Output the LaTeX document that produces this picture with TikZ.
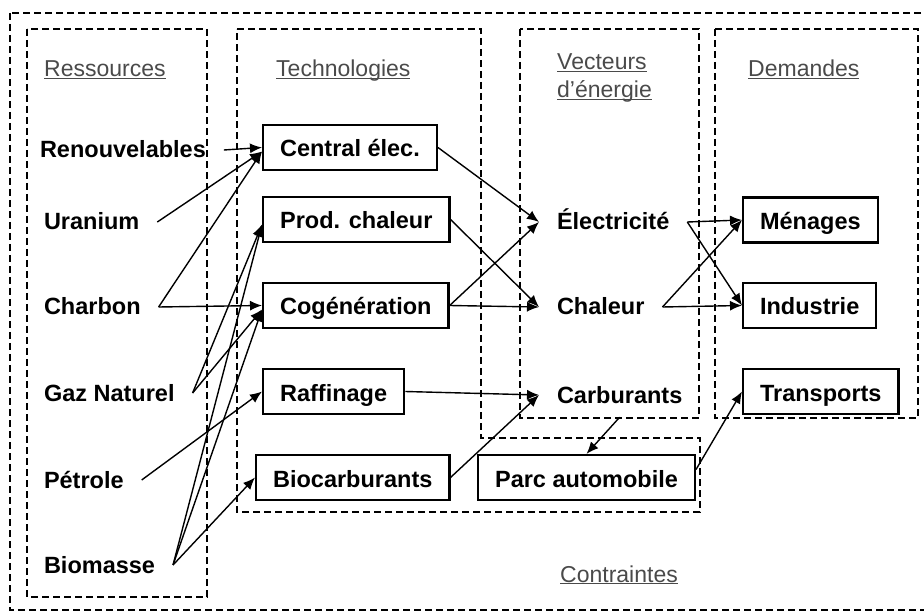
\documentclass[tikz,border=0pt]{standalone}
\usepackage{fontspec}
\setmainfont{Liberation Sans}
\usetikzlibrary{arrows.meta, calc}
\definecolor{labelgray}{HTML}{4A4A4A}
\newcommand{\zonetitle}[1]{\underline{\smash{#1}}}
\tikzset{
  zone/.style={line width=2.2pt, dash pattern=on 7pt off 4pt},
  zonelabel/.style={font=\fontsize{23}{28}\selectfont, text=labelgray, anchor=west,
    inner sep=0pt, text height=16pt, text depth=0pt},
  textnode/.style={font=\bfseries\fontsize{23.5}{27}\selectfont, anchor=west,
    inner sep=0pt, outer xsep=18pt, text height=16pt, text depth=0pt},
  techbox/.style={draw, line width=2.2pt, font=\bfseries\fontsize{23.5}{27}\selectfont, anchor=west,
    inner xsep=17pt, inner ysep=0pt, minimum height=45pt, text height=19pt, text depth=0pt},
  flow/.style={-{Latex[length=12pt,width=10pt]}, line width=1.4pt}
}
\begin{document}
\begin{tikzpicture}[x=1pt, y=-1pt]
    \clip (0,0) rectangle (924,612);
    % Zones
    \draw[zone] (10,13) rectangle (930,610);
    \draw[zone] (27,29) rectangle (207,597);
    \draw[zone] (237,29) -- (481,29) -- (481,438) -- (700,438) -- (700,512) -- (237,512) -- cycle;
    \draw[zone] (520,29) rectangle (699,418);
    \draw[zone] (715,29) rectangle (918,418);
    % Zone titles
    \node[zonelabel] (tres) at (44,69) {\zonetitle{Ressources}};
    \node[zonelabel] (ttech) at (276,69) {\zonetitle{Technologies}};
    \node[zonelabel, align=left] (tvec) at (557,90) {\zonetitle{Vecteurs}\\\zonetitle{d'énergie}};
    \node[zonelabel] (tdem) at (748,69) {\zonetitle{Demandes}};
    \node[zonelabel] (tcon) at (560,574) {\zonetitle{Contraintes}};
    % Ressources
    \node[textnode] (ren) at (22,150) {Renouvelables};
    \node[textnode] (ura) at (26,222) {Uranium};
    \node[textnode] (cha) at (26,307) {Charbon};
    \node[textnode] (gaz) at (26,393) {Gaz Naturel};
    \node[textnode] (pet) at (26,480) {Pétrole};
    \node[textnode] (bio) at (26,565) {Biomasse};
    % Technologies
    \node[techbox] (cen) at (262,147.5) {Central élec.};
    \node[techbox] (prod) at (262,219.5) {Prod. chaleur};
    \node[techbox] (cog) at (262,305.5) {Cogénération};
    \node[techbox] (raf) at (262,391.5) {Raffinage};
    \node[techbox] (biocarb) at (255,477.5) {Biocarburants};
    \node[techbox] (parc) at (477,477.5) {Parc automobile};
    % Vecteurs d'energie
    \node[textnode] (elec) at (539,222) {Électricité};
    \node[textnode] (chal) at (539,307) {Chaleur};
    \node[textnode] (carb) at (539,395) {Carburants};
    % Demandes
    \node[techbox] (men) at (742,220) {Ménages};
    \node[techbox] (ind) at (742,305.5) {Industrie};
    \node[techbox] (trans) at (742,391.5) {Transports};
    % Ressources -> technologies
    \draw[flow] (ren.east) -- (cen.west);
    \draw[flow] (ura.east) -- ([yshift=-4pt]cen.west);
    \draw[flow] (cha.east) -- ([yshift=-4pt]cen.west);
    \draw[flow] (cha.east) -- (cog.west);
    \draw[flow] (gaz.east) -- ([yshift=-5pt]prod.west);
    \draw[flow] (gaz.east) -- ([yshift=-4pt]cog.west);
    \draw[flow] (pet.east) -- (raf.west);
    \draw[flow] (bio.east) -- ([yshift=-5pt]prod.west);
    \draw[flow] (bio.east) -- ([yshift=-4pt]cog.west);
    \draw[flow] (bio.east) -- (biocarb.west);
    % Technologies -> vecteurs
    \draw[flow] (cen.east) -- (elec.west);
    \draw[flow] (prod.east) -- (chal.west);
    \draw[flow] (cog.east) -- (elec.west);
    \draw[flow] (cog.east) -- (chal.west);
    \draw[flow] (raf.east) -- (carb.west);
    \draw[flow] (biocarb.east) -- (carb.west);
    % Vecteurs -> demandes
    \draw[flow] (elec.east) -- (men.west);
    \draw[flow] (elec.east) -- (ind.west);
    \draw[flow] (chal.east) -- (men.west);
    \draw[flow] (chal.east) -- (ind.west);
    \draw[flow] ([yshift=-14pt]carb.south) -- (parc.north);
    \draw[flow] ([yshift=8pt]parc.east) -- (trans.west);
\end{tikzpicture}
\end{document}
